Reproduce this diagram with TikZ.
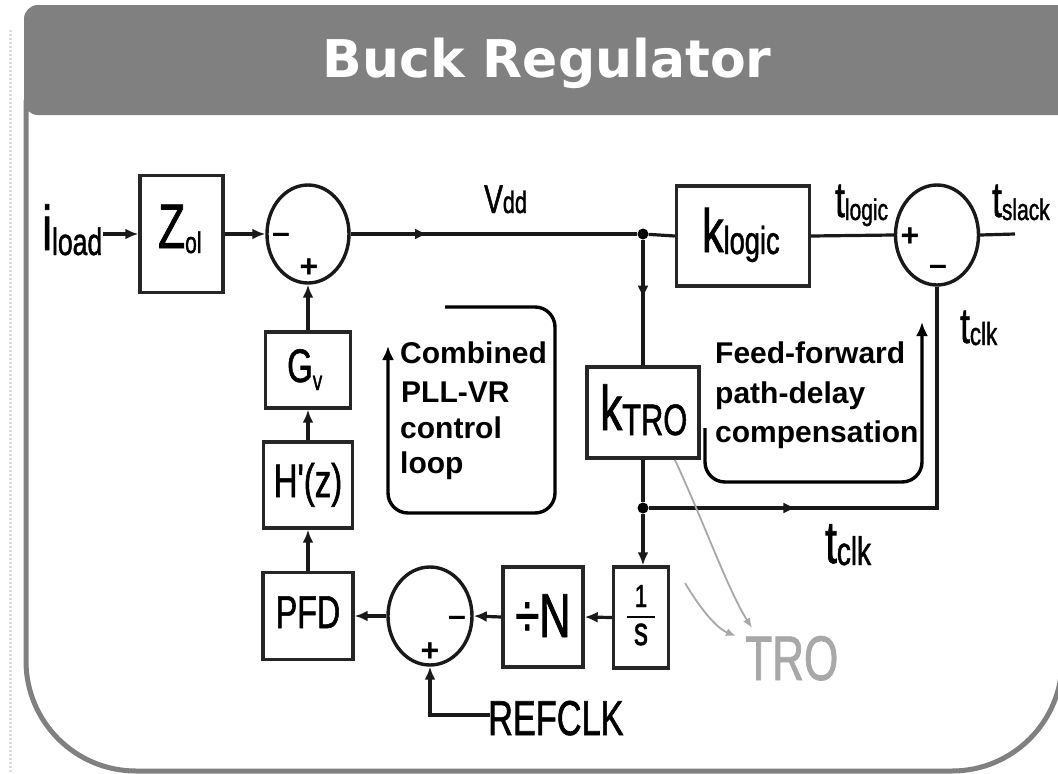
\documentclass[tikz,border=0pt]{standalone}
\usepackage{fontspec}
\setmainfont{Liberation Sans}
\newfontfamily\nar[FakeStretch=0.7,FakeBold=1.2]{Liberation Sans}
\newfontfamily\ttlfont{DejaVu Sans}
\usetikzlibrary{arrows.meta,shapes.geometric,decorations.markings}
\definecolor{bargray}{HTML}{808080}
\definecolor{lgray}{HTML}{A8A8A8}
\newcommand\fsz[1]{\fontsize{#1}{#1}\selectfont}
\newcommand\sbs[3]{{\fsz{#1}\raisebox{-#2pt}{#3}}}
\begin{document}
\begin{tikzpicture}[x=1pt,y=-1pt,
  wire/.style={line width=3.2pt, draw=black!90},
  arr/.style={wire,-{Latex[length=13pt,width=11pt]}},
  midarr/.style={wire, postaction={decorate, decoration={markings, mark=at position #1 with {\arrow{Latex[length=13pt,width=11pt]}}}}},
  blk/.style={draw=black!85, line width=3.4pt, inner sep=0},
  sumj/.style={ellipse, draw=black!90, line width=3.4pt, inner sep=0},
  lab/.style={anchor=base west, inner sep=0, font=\nar},
  labc/.style={anchor=base, inner sep=0, font=\nar},
  sgn/.style={inner sep=0, font=\bfseries\fsz{32}},
  ann/.style={anchor=base west, inner sep=0, font=\bfseries\fsz{30}},
  looparr/.style={line width=3.4pt, rounded corners=20pt, -{Latex[length=14pt,width=12pt]}},
  dot/.style={circle, fill=black, inner sep=0, minimum size=11pt},
  troarr/.style={draw=lgray, line width=1.8pt, -{Latex[length=10pt,width=8pt]}},
]
\useasboundingbox (0,0) rectangle (1058,774);
\fill[white] (0,0) rectangle (1058,774);
% faint left strip
\draw[gray!25, line width=3pt, dash pattern=on 2pt off 2pt] (10,30) -- (10,774);
% frame
\draw[bargray, line width=5pt, rounded corners=110pt] (26,100) -- (26,771) -- (1062,771) -- (1062,100);
% title bar
\fill[bargray, rounded corners=14pt] (24,5) rectangle (1080,115);
\node[anchor=base, inner sep=0, text=white, font=\ttlfont\bfseries\fsz{52}] (title) at (547,77) {Buck Regulator};

% blocks
\node[blk, minimum width=83pt, minimum height=117pt] (zol) at (181.5,234) {};
\node[sumj, minimum width=82pt, minimum height=98pt] (sum1) at (308,234) {};
\node[blk, minimum width=133pt, minimum height=100pt] (klogic) at (743,236) {};
\node[sumj, minimum width=83pt, minimum height=100pt] (sum2) at (937,235) {};
\node[blk, minimum width=112pt, minimum height=91pt] (ktro) at (643,412.5) {};
\node[blk, minimum width=55pt, minimum height=101pt] (integ) at (641,617.5) {};
\node[blk, minimum width=80pt, minimum height=100pt] (divn) at (543,617) {};
\node[sumj, minimum width=84pt, minimum height=98pt] (sum3) at (430,616) {};
\node[blk, minimum width=90pt, minimum height=87pt] (pfd) at (308,616) {};
\node[blk, minimum width=89pt, minimum height=86pt] (hz) at (308,485) {};
\node[blk, minimum width=85pt, minimum height=76pt] (gv) at (308,370) {};
\node[dot] (j1) at (643,234) {};
\node[dot] (j2) at (643,508) {};
\coordinate (iin) at (103,234);
\coordinate (tsl) at (1015,234);
\coordinate (rc) at (490,715);

% labels
\node[lab] (iload) at (42,250) {\fsz{63}i\sbs{38}{5}{load}};
\node[lab] (zlab) at (158,248) {\fsz{63}Z\sbs{30}{5}{ol}};
\node[lab] (vdd) at (484,213) {\fsz{40}V\fsz{31}dd};
\node[lab] (klab) at (702,252) {\fsz{61}k\sbs{39}{2}{logic}};
\node[lab] (tlogic) at (835,217) {\fsz{50}t\sbs{30}{3}{logic}};
\node[lab] (tslack) at (992,217) {\fsz{50}t\sbs{30}{3}{slack}};
\node[lab] (tclka) at (960,343) {\fsz{50}t\sbs{32}{2}{clk}};
\node[lab] (tclkb) at (825,563) {\fsz{60}t\sbs{40}{2}{clk}};
\node[lab] (ktlab) at (600,430) {\fsz{63}k\sbs{44}{5}{TRO}};
\node[lab] (gvlab) at (287,382) {\fsz{47}G\sbs{27}{8}{v}};
\node[labc] (hzlab) at (308,497) {\fsz{47}H'(z)};
\node[labc] (pfdlab) at (308,628) {\fsz{46}PFD};
\node[labc] (divlab) at (543,637) {\fsz{62}÷N};
\node[labc] (onelab) at (641,607) {\fsz{32}1};
\node[labc] (slab) at (641,645) {\fsz{40}s};
\draw[line width=2.5pt] (627,617) -- (655,617);
\node[lab] (reflab) at (488,735) {\fsz{49}REFCLK};
\node[lab, text=lgray] (trolab) at (745,680) {\fsz{63}TRO};

% signs
\node[sgn] (s1m) at (281,238) {–};
\node[sgn] (s1p) at (309,268) {+};
\node[sgn] (s2p) at (910,237) {+};
\node[sgn] (s2m) at (938,270) {–};
\node[sgn] (s3m) at (457,621) {–};
\node[sgn] (s3p) at (430,652) {+};

% connectors
\draw[arr] (iin) -- (zol.west);
\draw[arr] (zol.east) -- (sum1.west);
\draw[midarr=0.27] (sum1.east) -- (j1);
\draw[wire] (j1) -- (klogic.west);
\draw[wire] (klogic.east) -- (sum2.west);
\draw[wire] (sum2.east) -- (tsl);
\draw[midarr=0.47] (j1) -- (ktro.north);
\draw[wire] (ktro.south) -- (j2);
\draw[arr] (j2) -- (integ.north -| j2);
\draw[midarr=0.29] (j2) -- (j2 -| sum2.south) -- (sum2.south);
\draw[arr] (integ.west) -- (divn.east);
\draw[arr] (divn.west) -- (sum3.east);
\draw[arr] (sum3.west) -- (pfd.east);
\draw[arr] (pfd.north) -- (hz.south);
\draw[arr] (hz.north) -- (gv.south);
\draw[arr] (gv.north) -- (sum1.south);
\draw[arr] (rc) -- (rc -| sum3.south) -- (sum3.south);

% annotations
\node[ann] (c1) at (400,363) {Combined};
\node[ann] (c2) at (401,402) {PLL-VR};
\node[ann] (c3) at (400,438) {control};
\node[ann] (c4) at (400,473) {loop};
\node[ann] (f1) at (715,363) {Feed-forward};
\node[ann] (f2) at (715,403) {path-delay};
\node[ann] (f3) at (715,442) {compensation};
\draw[looparr] (445,307) -- (555,307) -- (555,513) -- (388,513) -- (388,346);
\draw[looparr] (705,428) -- (705,482) -- (922,482) -- (922,322);

% TRO arrows
\draw[troarr] (675,460) .. controls (705,525) and (728,590) .. (752,628);
\draw[troarr] (685,583) .. controls (700,608) and (716,628) .. (736,636);
\end{tikzpicture}
\end{document}
